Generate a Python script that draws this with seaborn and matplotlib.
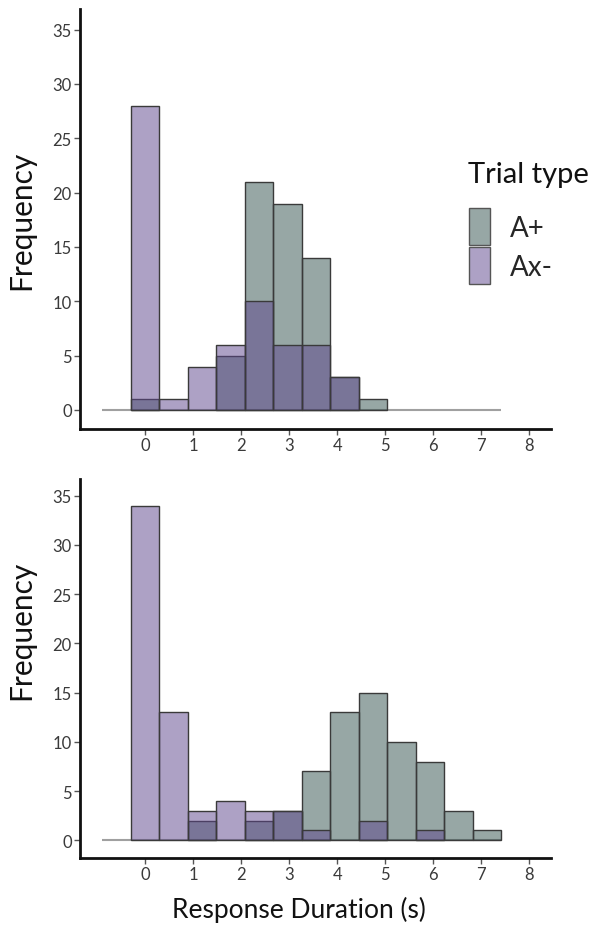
import numpy as np
import pandas as pd
import matplotlib.pyplot as plt
import seaborn as sns
from matplotlib.patches import Patch
from matplotlib.colors import to_rgba

# bin centres (s) and counts
durations = [0.0, 0.594, 1.188, 1.782, 2.376, 2.97, 3.564, 4.158, 4.752, 5.346, 5.94, 6.534, 7.128]
top_a_plus = [1, 0, 0, 5, 21, 19, 14, 3, 1, 0, 0, 0, 0]
top_ax_minus = [28, 1, 4, 6, 10, 6, 6, 3, 0, 0, 0, 0, 0]
bottom_a_plus = [0, 0, 2, 0, 2, 3, 7, 13, 15, 10, 8, 3, 1]
bottom_ax_minus = [34, 13, 3, 4, 3, 3, 1, 0, 2, 0, 1, 0, 0]
trial_types = ['A+', 'Ax-']
x_ticks = [0, 1, 2, 3, 4, 5, 6, 7, 8]
y_ticks = [0, 5, 10, 15, 20, 25, 30, 35]

colors = {'A+': '#31514d', 'Ax-': '#5d458d'}
bin_width = 0.594
edge_col = '#3a3a3a'

sns.set_style('ticks')
plt.rcParams['font.family'] = ['Lato', 'DejaVu Sans']


def make_frame(a_plus, ax_minus):
    return pd.DataFrame({
        'duration': durations * 2,
        'count': a_plus + ax_minus,
        'trial': ['A+'] * len(durations) + ['Ax-'] * len(durations),
    })


fig = plt.figure(figsize=(6, 9.37), dpi=100)
ax_top = fig.add_axes([80 / 600, 1 - 430 / 937, 471 / 600, 420 / 937])
ax_bot = fig.add_axes([80 / 600, 1 - 858.7 / 937, 471 / 600, 378.7 / 937])

panels = [
    (ax_top, make_frame(top_a_plus, top_ax_minus), (-1.75, 36.9), 0.5),
    (ax_bot, make_frame(bottom_a_plus, bottom_ax_minus), (-1.77, 36.7), 0.604),
]
brange = (durations[0] - bin_width / 2, durations[-1] + bin_width / 2)

for ax, df, ylim, ylab_pos in panels:
    # baseline drawn under the bars, one bin wider on the left
    ax.hlines(0, brange[0] - bin_width, brange[1], color='#a0a0a0', lw=1.5, zorder=0.5)
    for t in trial_types:
        sub = df[df['trial'] == t]
        sns.histplot(data=sub, x='duration', weights='count', binwidth=bin_width,
                     binrange=brange, color=colors[t], alpha=0.5,
                     edgecolor=edge_col, linewidth=1, ax=ax)
    for p in list(ax.patches):
        if p.get_height() == 0:
            p.remove()
    ax.set_xlim(-1.36, 8.46)
    ax.set_ylim(*ylim)
    ax.set_xticks(x_ticks)
    ax.set_yticks(y_ticks)
    sns.despine(ax=ax)
    for s in ['left', 'bottom']:
        ax.spines[s].set_linewidth(2)
        ax.spines[s].set_color('#111111')
    ax.tick_params(length=4, width=1, color='#555555', labelcolor='#3a3a3a',
                   labelsize=12, pad=2)
    ax.set_ylabel('Frequency', fontsize=21.5, color='#111111')
    ax.yaxis.set_label_coords(-0.096, ylab_pos)
    ax.set_xlabel('')

ax_bot.set_xlabel('Response Duration (s)', fontsize=19, color='#111111')
ax_bot.xaxis.set_label_coords(0.465, -0.1)

# legend
fig.text(468 / 600, 1 - 183 / 937, 'Trial type', fontsize=21, color='#111111',
         ha='left', va='baseline')
handles = [Patch(facecolor=to_rgba(colors[t], 0.5), edgecolor='#555555', lw=1, label=t)
           for t in trial_types]
ax_top.legend(handles=handles, loc='upper left', bbox_to_anchor=(469 / 600, 1 - 209 / 937),
              bbox_transform=fig.transFigure, frameon=False, borderpad=0, borderaxespad=0,
              fontsize=20, handlelength=0.76, handleheight=1.67, handletextpad=0.7,
              labelspacing=0.08)

fig.savefig('out.png', dpi=100)
